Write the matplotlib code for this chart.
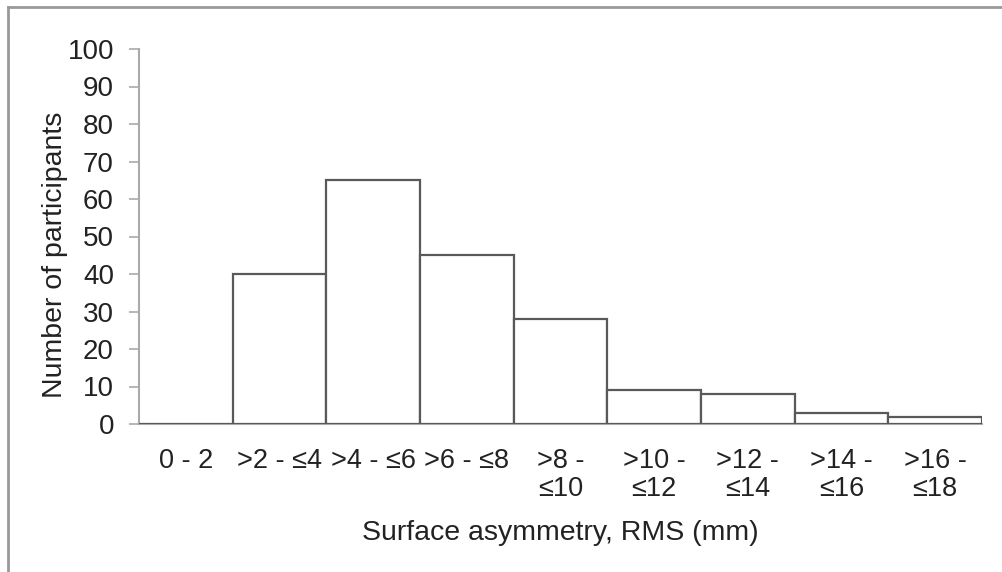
import matplotlib
matplotlib.use("Agg")
import matplotlib.pyplot as plt
from matplotlib.lines import Line2D

categories = ["0 - 2", ">2 - \u22644", ">4 - \u22646", ">6 - \u22648", ">8 -\n\u226410",
              ">10 -\n\u226412", ">12 -\n\u226414", ">14 -\n\u226416", ">16 -\n\u226418"]
counts = [0, 40, 65, 45, 28, 9, 8, 3, 2]
yticks = [0, 10, 20, 30, 40, 50, 60, 70, 80, 90, 100]

plt.rcParams['font.family'] = ['Liberation Sans', 'DejaVu Sans']

fig = plt.figure(figsize=(10.03, 5.72), dpi=100)
ax = fig.add_axes([139/1003, 1-424/572, (982-139)/1003, (424-49)/572])

x = [i + 0.5 for i in range(len(categories))]
ax.bar(x, counts, width=1.0, color='white', edgecolor='#595959', linewidth=1.6, zorder=3)

ax.set_xlim(0, len(categories))
ax.set_ylim(0, 100)
ax.set_yticks(yticks)
ax.set_xticks(x)
ax.set_xticklabels(categories, fontsize=19.5, color='#222222', linespacing=1.12)
ax.tick_params(axis='x', length=0, pad=17)
ax.tick_params(axis='y', length=7, width=1.2, color='#aaaaaa', labelsize=20,
               labelcolor='#222222', pad=11)

for s in ['top', 'right']:
    ax.spines[s].set_visible(False)
for s in ['left', 'bottom']:
    ax.spines[s].set_color('#aaaaaa')
    ax.spines[s].set_linewidth(1.5)

ax.set_ylabel("Number of participants", fontsize=20.5, color='#222222')
ax.yaxis.label.set_va('center')
ax.yaxis.set_label_coords(-0.0996, 0.45)
ax.set_xlabel("Surface asymmetry, RMS (mm)", fontsize=20.5, color='#222222')
ax.xaxis.label.set_va('center')
ax.xaxis.set_label_coords(0.5, -0.29)

# outer chart border (top and left visible)
fig.add_artist(Line2D([8/1003, 1.0], [1-7/572, 1-7/572], transform=fig.transFigure,
                      color='#999999', linewidth=2))
fig.add_artist(Line2D([8/1003, 8/1003], [1-7/572, 0.0], transform=fig.transFigure,
                      color='#999999', linewidth=2))

fig.savefig("out.png", dpi=100)
